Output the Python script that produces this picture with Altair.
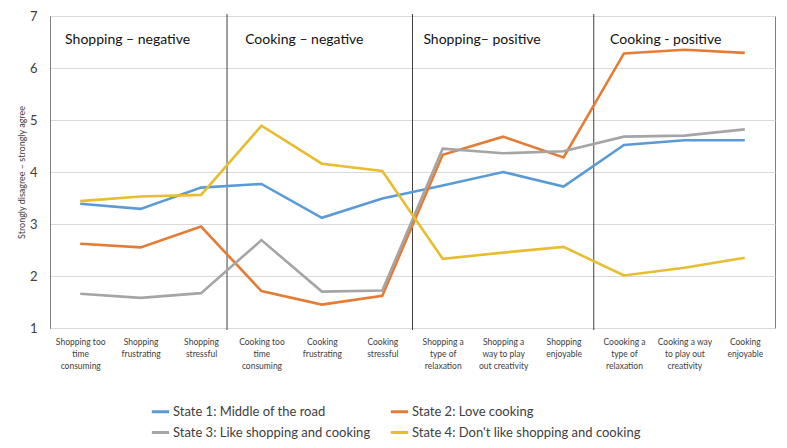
import json
import altair as alt
import pandas as pd

# ---- data ----
x_labels = [
    ["Shopping too", "time", "consuming"],
    ["Shopping", "frustrating"],
    ["Shopping", "stressful"],
    ["Cooking too", "time", "consuming"],
    ["Cooking", "frustrating"],
    ["Cooking", "stressful"],
    ["Shopping a", "type of", "relaxation"],
    ["Shopping a", "way to play", "out creativity"],
    ["Shopping", "enjoyable"],
    ["Coooking a", "type of", "relaxation"],
    ["Cooking a way", "to play out", "creativity"],
    ["Cooking", "enjoyable"],
]
states = [
    "State 1: Middle of the road",
    "State 2: Love cooking",
    "State 3: Like shopping and cooking",
    "State 4: Don't like shopping and cooking",
]
state1 = [3.39, 3.29, 3.70, 3.77, 3.12, 3.49, 3.74, 4.00, 3.72, 4.52, 4.61, 4.61]
state2 = [2.62, 2.55, 2.95, 1.71, 1.45, 1.62, 4.33, 4.68, 4.28, 6.28, 6.35, 6.29]
state3 = [1.66, 1.58, 1.67, 2.69, 1.70, 1.72, 4.45, 4.36, 4.40, 4.68, 4.70, 4.82]
state4 = [3.44, 3.53, 3.56, 4.89, 4.16, 4.02, 2.33, 2.45, 2.56, 2.01, 2.16, 2.35]
colors = ["#5B9BD5", "#E57C35", "#A5A5A5", "#E8BD2F"]

section_labels = ["Shopping – negative", "Cooking – negative", "Shopping– positive", "Cooking - positive"]
section_x = [0.25, 3.23, 6.18, 9.27]
section_y = [6.54, 6.54, 6.54, 6.54]
separators = [2.93, 6.0, 9.0]

rows = []
for name, vals in zip(states, [state1, state2, state3, state4]):
    for i, v in enumerate(vals):
        rows.append({"pos": i + 0.5, "state": name, "value": v})
df = pd.DataFrame(rows)

sec_df = pd.DataFrame({"label": section_labels, "x": section_x, "y": section_y})
sep_df = pd.DataFrame({"x": separators})

label_expr = json.dumps(x_labels) + "[floor(datum.value)]"

# legend fills column by column: order so rows read 1,2 / 3,4
legend_order = [0, 2, 1, 3]
dom = [states[i] for i in legend_order]
rng = [colors[i] for i in legend_order]

xscale = alt.Scale(domain=[0, 12], nice=False, zero=False)
yscale = alt.Scale(domain=[1, 7], nice=False, zero=False)

lines = alt.Chart(df).mark_line(strokeWidth=2.6).encode(
    x=alt.X("pos:Q", scale=xscale,
            axis=alt.Axis(values=[i + 0.5 for i in range(12)], labelExpr=label_expr,
                          grid=False, ticks=False, domain=False, title=None,
                          labelFontSize=8.5, labelLineHeight=12, labelBaseline="top",
                          labelPadding=9, labelAngle=0, labelAlign="center",
                          labelColor="#404040", labelOverlap=False, labelFlush=False)),
    y=alt.Y("value:Q", scale=yscale,
            axis=alt.Axis(values=[1, 2, 3, 4, 5, 6, 7], gridColor="#D9D9D9", ticks=False,
                          domainColor="#7F7F7F", labelFontSize=13, labelPadding=13,
                          labelColor="#404040",
                          title="Strongly disagree – strongly agree", titleFontSize=9,
                          titleFontWeight="normal", titleColor="#404040", titlePadding=3)),
    color=alt.Color("state:N", scale=alt.Scale(domain=dom, range=rng),
                    legend=alt.Legend(title=None, orient="none", legendX=100, legendY=385,
                                      columns=2, symbolType="stroke", symbolStrokeWidth=3,
                                      symbolSize=300, labelFontSize=13, labelColor="#404040",
                                      labelOffset=2, rowPadding=3, columnPadding=13,
                                      labelLimit=400)),
    detail="state:N",
)

seps = alt.Chart(sep_df).mark_rule(color="#404040", strokeWidth=1).encode(
    x=alt.X("x:Q", scale=xscale),
    y=alt.value(-2),
    y2=alt.value(314),
)

texts = alt.Chart(sec_df).mark_text(align="left", baseline="middle", fontSize=14, color="#111111").encode(
    x=alt.X("x:Q", scale=xscale),
    y=alt.Y("y:Q", scale=yscale),
    text="label:N",
)

chart = alt.layer(seps, lines, texts).properties(
    width=725, height=312,
    autosize=alt.AutoSizeParams(type="none"),
    padding={"left": 42, "top": 8, "right": 4, "bottom": 112},
).configure(font="Lato").configure_view(stroke="#7F7F7F")

chart.save("out.html", embed_options={"renderer": "svg", "actions": False})
